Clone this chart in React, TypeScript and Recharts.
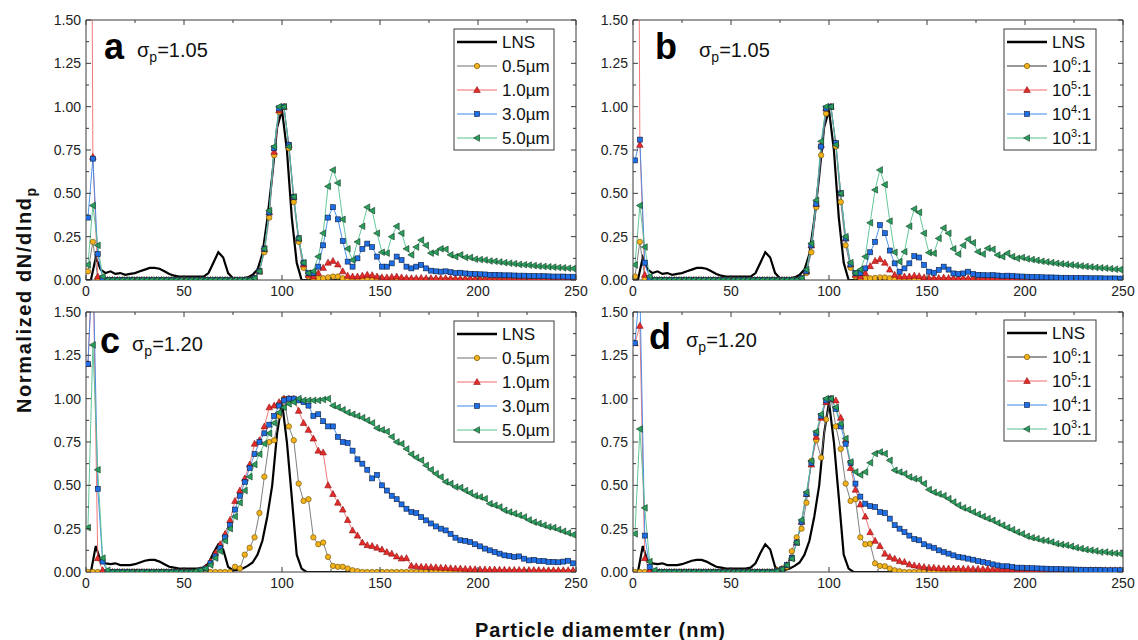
import { LineChart, Line, XAxis, YAxis } from "recharts";

const FONT = "Arial, 'Liberation Sans', sans-serif";
const FRAME = "#3a3a3a";

// bin centres of the simulated distributions (nm)
const binDiam = [
  1, 3.5, 6, 8.5, 11, 13.5, 16, 18.5, 21, 23.5,
  26, 28.5, 31, 33.5, 36, 38.5, 41, 43.5, 46, 48.5,
  51, 53.5, 56, 58.5, 61, 63.5, 66, 68.5, 71, 73.5,
  76, 78.5, 81, 83.5, 86, 88.5, 91, 93.5, 96, 98.5,
  101, 103.5, 106, 108.5, 111, 113.5, 116, 118.5, 121, 123.5,
  126, 128.5, 131, 133.5, 136, 138.5, 141, 143.5, 146, 148.5,
  151, 153.5, 156, 158.5, 161, 163.5, 166, 168.5, 171, 173.5,
  176, 178.5, 181, 183.5, 186, 188.5, 191, 193.5, 196, 198.5,
  201, 203.5, 206, 208.5, 211, 213.5, 216, 218.5, 221, 223.5,
  226, 228.5, 231, 233.5, 236, 238.5, 241, 243.5, 246, 248.5,
];

// grid of the LNS reference curve (nm)
const lnsDiam = [
  0, 2.5, 5, 7.5, 10, 12.5, 15, 17.5, 20, 22.5,
  25, 27.5, 30, 32.5, 35, 37.5, 40, 42.5, 45, 47.5,
  50, 52.5, 55, 57.5, 60, 62.5, 65, 67.5, 70, 72.5,
  75, 77.5, 80, 82.5, 85, 87.5, 90, 92.5, 95, 97.5,
  100, 102.5, 105, 107.5, 110, 112.5, 115, 117.5, 120, 122.5,
  125, 127.5, 130, 132.5, 135, 137.5, 140, 142.5, 145, 147.5,
  150, 152.5, 155, 157.5, 160, 162.5, 165, 167.5, 170, 172.5,
  175, 177.5, 180, 182.5, 185, 187.5, 190, 192.5, 195, 197.5,
  200, 202.5, 205, 207.5, 210, 212.5, 215, 217.5, 220, 222.5,
  225, 227.5, 230, 232.5, 235, 237.5, 240, 242.5, 245, 247.5,
  250,
];

const lnsNarrow = [
  0, 0, 0.13, 0.06, 0.04, 0.05, 0.035, 0.04, 0.03, 0.035,
  0.04, 0.05, 0.06, 0.07, 0.07, 0.065, 0.05, 0.035, 0.025, 0.02,
  0.02, 0.02, 0.02, 0.02, 0.02, 0.04, 0.1, 0.16, 0.13, 0.04,
  0.01, 0.01, 0.01, 0.015, 0.03, 0.06, 0.15, 0.35, 0.6, 0.88,
  0.98, 0.75, 0.36, 0.1, 0, 0, 0, 0, 0, 0,
  0, 0, 0, 0, 0, 0, 0, 0, 0, 0,
  0, 0, 0, 0, 0, 0, 0, 0, 0, 0,
  0, 0, 0, 0, 0, 0, 0, 0, 0, 0,
  0, 0, 0, 0, 0, 0, 0, 0, 0, 0,
  0, 0, 0, 0, 0, 0, 0, 0, 0, 0,
  0,
];

const lnsWide = [
  0, 0, 0.15, 0.06, 0.05, 0.045, 0.05, 0.04, 0.04, 0.04,
  0.045, 0.055, 0.065, 0.07, 0.07, 0.06, 0.045, 0.03, 0.025, 0.02,
  0.02, 0.02, 0.02, 0.02, 0.025, 0.05, 0.11, 0.16, 0.13, 0.03,
  0.01, 0.012, 0.02, 0.035, 0.055, 0.1, 0.18, 0.32, 0.5, 0.8,
  0.98, 0.75, 0.43, 0.1, 0.02, 0, 0, 0, 0, 0,
  0, 0, 0, 0, 0, 0, 0, 0, 0, 0,
  0, 0, 0, 0, 0, 0, 0, 0, 0, 0,
  0, 0, 0, 0, 0, 0, 0, 0, 0, 0,
  0, 0, 0, 0, 0, 0, 0, 0, 0, 0,
  0, 0, 0, 0, 0, 0, 0, 0, 0, 0,
  0,
];

// panel a: sigma 1.05, particle size
const a05 = [
  0.05, 0.22, 0.01, 0, 0, 0, 0, 0, 0, 0,
  0, 0, 0, 0, 0, 0, 0, 0, 0, 0,
  0, 0, 0, 0, 0, 0, 0, 0, 0, 0,
  0, 0, 0, 0, 0.01, 0.05, 0.16, 0.36, 0.72, 0.97,
  1.0, 0.76, 0.45, 0.22, 0.07, 0.02, 0.01, 0.01, 0.01, 0.015,
  0.02, 0.02, 0.01, 0.005, 0, 0, 0, 0, 0, 0,
  0, 0, 0, 0, 0, 0, 0, 0, 0, 0,
  0, 0, 0, 0, 0, 0, 0, 0, 0, 0,
  0, 0, 0, 0, 0, 0, 0, 0, 0, 0,
  0, 0, 0, 0, 0, 0, 0, 0, 0, 0,
];
const a10 = [
  7, 0.71, 0.02, 0, 0, 0, 0, 0, 0, 0,
  0, 0, 0, 0, 0, 0, 0, 0, 0, 0,
  0, 0, 0, 0, 0, 0, 0, 0, 0, 0,
  0, 0, 0, 0, 0.01, 0.05, 0.18, 0.39, 0.74, 0.98,
  1.0, 0.78, 0.48, 0.24, 0.09, 0.03, 0.02, 0.04, 0.07, 0.1,
  0.11, 0.09, 0.05, 0.025, 0.02, 0.02, 0.025, 0.03, 0.028, 0.02,
  0.015, 0.015, 0.018, 0.02, 0.015, 0.012, 0.01, 0.01, 0.012, 0.01,
  0.01, 0.01, 0.01, 0.01, 0.01, 0.008, 0.008, 0.008, 0.008, 0.007,
  0.007, 0.006, 0.006, 0.006, 0.005, 0.005, 0.005, 0.005, 0.005, 0.005,
  0.004, 0.004, 0.004, 0.004, 0.004, 0.004, 0.004, 0.004, 0.004, 0.004,
];
const a30 = [
  0.36, 0.7, 0.15, 0.01, 0, 0, 0, 0, 0, 0,
  0, 0, 0, 0, 0, 0, 0, 0, 0, 0,
  0, 0, 0, 0, 0, 0, 0, 0, 0, 0,
  0, 0, 0, 0, 0.01, 0.05, 0.18, 0.39, 0.76, 0.99,
  1.0, 0.78, 0.48, 0.24, 0.1, 0.04, 0.04, 0.077, 0.2, 0.36,
  0.42, 0.35, 0.225, 0.106, 0.077, 0.125, 0.18, 0.21, 0.19, 0.135,
  0.077, 0.077, 0.096, 0.135, 0.115, 0.077, 0.067, 0.077, 0.087, 0.067,
  0.054, 0.05, 0.048, 0.05, 0.045, 0.04, 0.042, 0.038, 0.036, 0.035,
  0.033, 0.032, 0.03, 0.03, 0.028, 0.027, 0.027, 0.026, 0.025, 0.025,
  0.024, 0.023, 0.022, 0.022, 0.021, 0.02, 0.02, 0.02, 0.019, 0.019,
];
const a50 = [
  0.087, 0.43, 0.2, 0.02, 0, 0, 0, 0, 0, 0,
  0, 0, 0, 0, 0, 0, 0, 0, 0, 0,
  0, 0, 0, 0, 0, 0, 0, 0, 0, 0,
  0, 0, 0, 0, 0.01, 0.05, 0.18, 0.4, 0.77, 1.0,
  1.0, 0.77, 0.48, 0.24, 0.1, 0.04, 0.05, 0.135, 0.27, 0.54,
  0.635, 0.56, 0.35, 0.18, 0.115, 0.22, 0.31, 0.42, 0.4, 0.27,
  0.16, 0.155, 0.25, 0.31, 0.27, 0.18, 0.145, 0.19, 0.23, 0.2,
  0.155, 0.16, 0.18, 0.177, 0.145, 0.135, 0.145, 0.13, 0.13, 0.12,
  0.118, 0.115, 0.11, 0.108, 0.104, 0.1, 0.097, 0.094, 0.09, 0.088,
  0.086, 0.083, 0.08, 0.078, 0.076, 0.074, 0.072, 0.07, 0.068, 0.066,
];

// panel b: sigma 1.05, concentration ratio
const b6 = [
  0.02, 0.22, 0.01, 0, 0, 0, 0, 0, 0, 0,
  0, 0, 0, 0, 0, 0, 0, 0, 0, 0,
  0, 0, 0, 0, 0, 0, 0, 0, 0, 0,
  0, 0, 0, 0, 0.005, 0.04, 0.16, 0.42, 0.72, 0.96,
  1.0, 0.77, 0.45, 0.2, 0.07, 0.02, 0.01, 0.01, 0.01, 0.012,
  0.015, 0.015, 0.01, 0.005, 0, 0, 0, 0, 0, 0,
  0, 0, 0, 0, 0, 0, 0, 0, 0, 0,
  0, 0, 0, 0, 0, 0, 0, 0, 0, 0,
  0, 0, 0, 0, 0, 0, 0, 0, 0, 0,
  0, 0, 0, 0, 0, 0, 0, 0, 0, 0,
];
const b5 = [
  7, 0.78, 0.03, 0, 0, 0, 0, 0, 0, 0,
  0, 0, 0, 0, 0, 0, 0, 0, 0, 0,
  0, 0, 0, 0, 0, 0, 0, 0, 0, 0,
  0, 0, 0, 0, 0.01, 0.05, 0.2, 0.44, 0.78, 0.99,
  1.0, 0.79, 0.5, 0.24, 0.09, 0.03, 0.02, 0.04, 0.08, 0.11,
  0.12, 0.1, 0.06, 0.03, 0.02, 0.02, 0.02, 0.025, 0.022, 0.015,
  0.012, 0.012, 0.012, 0.014, 0.012, 0.01, 0.01, 0.01, 0.01, 0.01,
  0.01, 0.009, 0.009, 0.009, 0.008, 0.008, 0.008, 0.007, 0.007, 0.007,
  0.006, 0.006, 0.006, 0.006, 0.006, 0.005, 0.005, 0.005, 0.005, 0.005,
  0.005, 0.005, 0.005, 0.005, 0.005, 0.004, 0.004, 0.004, 0.004, 0.004,
];
const b4 = [
  0.69, 0.81, 0.1, 0.01, 0, 0, 0, 0, 0, 0,
  0, 0, 0, 0, 0, 0, 0, 0, 0, 0,
  0, 0, 0, 0, 0, 0, 0, 0, 0, 0,
  0, 0, 0, 0, 0.01, 0.05, 0.2, 0.44, 0.77, 0.99,
  1.0, 0.79, 0.5, 0.24, 0.09, 0.04, 0.04, 0.067, 0.16, 0.22,
  0.317, 0.27, 0.17, 0.096, 0.048, 0.067, 0.096, 0.138, 0.13, 0.087,
  0.048, 0.042, 0.058, 0.077, 0.06, 0.038, 0.035, 0.038, 0.048, 0.035,
  0.03, 0.028, 0.027, 0.028, 0.026, 0.024, 0.025, 0.023, 0.021, 0.02,
  0.019, 0.018, 0.017, 0.016, 0.015, 0.015, 0.014, 0.013, 0.013, 0.012,
  0.012, 0.011, 0.011, 0.01, 0.01, 0.01, 0.009, 0.009, 0.009, 0.008,
];
const b3 = [
  0.087, 0.43, 0.19, 0.02, 0, 0, 0, 0, 0, 0,
  0, 0, 0, 0, 0, 0, 0, 0, 0, 0,
  0, 0, 0, 0, 0, 0, 0, 0, 0, 0,
  0, 0, 0, 0, 0.01, 0.06, 0.21, 0.46, 0.8, 1.0,
  1.0, 0.78, 0.5, 0.25, 0.1, 0.04, 0.06, 0.135, 0.33, 0.52,
  0.635, 0.55, 0.34, 0.16, 0.106, 0.163, 0.31, 0.41, 0.39, 0.27,
  0.158, 0.154, 0.24, 0.3, 0.27, 0.18, 0.15, 0.2, 0.235, 0.215,
  0.163, 0.15, 0.183, 0.177, 0.144, 0.135, 0.154, 0.135, 0.125, 0.13,
  0.122, 0.118, 0.113, 0.108, 0.104, 0.1, 0.096, 0.093, 0.09, 0.087,
  0.084, 0.081, 0.078, 0.075, 0.072, 0.07, 0.068, 0.065, 0.062, 0.06,
];

// panel c: sigma 1.20, particle size
const c05 = [
  0, 0, 0, 0, 0, 0, 0, 0, 0, 0,
  0, 0, 0, 0, 0, 0, 0, 0, 0, 0,
  0, 0, 0, 0, 0, 0, 0, 0, 0, 0,
  0.03, 0.02, 0.1, 0.14, 0.2, 0.34, 0.55, 0.75, 0.76, 0.9,
  1.0, 0.84, 0.76, 0.51, 0.41, 0.42, 0.2, 0.16, 0.17, 0.087,
  0.035, 0.03, 0.03, 0.02, 0.01, 0.005, 0, 0, 0, 0,
  0, 0, 0, 0, 0, 0, 0, 0, 0, 0,
  0, 0, 0, 0, 0, 0, 0, 0, 0, 0,
  0, 0, 0, 0, 0, 0, 0, 0, 0, 0,
  0, 0, 0, 0, 0, 0, 0, 0, 0, 0,
];
const c10 = [
  1.2, 1.85, 0.08, 0.01, 0, 0, 0, 0, 0, 0,
  0, 0, 0, 0, 0, 0, 0, 0, 0, 0,
  0, 0, 0, 0.01, 0.025, 0.06, 0.11, 0.16, 0.22, 0.3,
  0.41, 0.47, 0.54, 0.62, 0.74, 0.76, 0.84, 0.95, 0.96, 0.98,
  1.0, 1.0, 1.0, 0.93, 0.86, 0.82, 0.77, 0.7, 0.69, 0.5,
  0.45, 0.4, 0.36, 0.3, 0.24, 0.21, 0.17, 0.155, 0.15, 0.14,
  0.13, 0.115, 0.106, 0.09, 0.078, 0.08, 0.036, 0.033, 0.03, 0.03,
  0.028, 0.027, 0.025, 0.024, 0.022, 0.02, 0.02, 0.018, 0.017, 0.016,
  0.015, 0.015, 0.014, 0.014, 0.013, 0.013, 0.012, 0.012, 0.012, 0.011,
  0.011, 0.011, 0.011, 0.01, 0.01, 0.01, 0.01, 0.01, 0.01, 0.01,
];
const c30 = [
  1.2, 1.82, 0.48, 0.06, 0, 0, 0, 0, 0, 0,
  0, 0, 0, 0, 0, 0, 0, 0, 0, 0,
  0, 0, 0, 0.01, 0.02, 0.05, 0.09, 0.14, 0.2, 0.27,
  0.36, 0.44, 0.52, 0.6, 0.68, 0.75, 0.8, 0.85, 0.9, 0.96,
  0.99, 1.0, 1.0, 0.99, 0.98, 0.96, 0.9, 0.91, 0.87, 0.84,
  0.84, 0.78, 0.75, 0.745, 0.7, 0.65, 0.625, 0.59, 0.54, 0.56,
  0.5, 0.47, 0.44, 0.42, 0.39, 0.365, 0.346, 0.34, 0.317, 0.298,
  0.28, 0.263, 0.25, 0.24, 0.22, 0.198, 0.183, 0.18, 0.173, 0.16,
  0.148, 0.135, 0.125, 0.115, 0.106, 0.096, 0.092, 0.087, 0.09, 0.077,
  0.067, 0.07, 0.063, 0.063, 0.058, 0.058, 0.056, 0.06, 0.065, 0.05,
];
const c50 = [
  0.256, 1.31, 0.59, 0.08, 0.01, 0, 0, 0, 0, 0,
  0, 0, 0, 0, 0, 0, 0, 0, 0, 0,
  0, 0, 0.005, 0.01, 0.02, 0.04, 0.08, 0.12, 0.18, 0.25,
  0.32, 0.4, 0.47, 0.55, 0.62, 0.68, 0.74, 0.8, 0.86, 0.92,
  0.95, 0.97, 0.98, 1.0, 0.99, 0.99, 0.99, 0.99, 0.995, 1.0,
  0.96, 0.95, 0.936, 0.92, 0.91, 0.9, 0.89, 0.875, 0.86, 0.83,
  0.82, 0.81, 0.78, 0.75, 0.74, 0.71, 0.68, 0.66, 0.645, 0.615,
  0.59, 0.567, 0.548, 0.52, 0.51, 0.49, 0.487, 0.47, 0.456, 0.44,
  0.433, 0.423, 0.394, 0.385, 0.375, 0.356, 0.346, 0.337, 0.327, 0.317,
  0.3, 0.288, 0.28, 0.27, 0.26, 0.256, 0.245, 0.235, 0.225, 0.215,
];

// panel d: sigma 1.20, concentration ratio
const d6 = [
  0, 0, 0, 0, 0, 0, 0, 0, 0, 0,
  0, 0, 0, 0, 0, 0, 0, 0, 0, 0,
  0, 0, 0, 0, 0, 0, 0, 0, 0, 0.01,
  0.02, 0.03, 0.12, 0.2, 0.25, 0.4, 0.64, 0.76, 0.66, 0.88,
  1.0, 0.84, 0.71, 0.51, 0.41, 0.42, 0.2, 0.16, 0.163, 0.05,
  0.035, 0.033, 0.02, 0.01, 0.005, 0, 0, 0, 0, 0,
  0, 0, 0, 0, 0, 0, 0, 0, 0, 0,
  0, 0, 0, 0, 0, 0, 0, 0, 0, 0,
  0, 0, 0, 0, 0, 0, 0, 0, 0, 0,
  0, 0, 0, 0, 0, 0, 0, 0, 0, 0,
];
const d5 = [
  1.32, 1.42, 0.08, 0.01, 0, 0, 0, 0, 0, 0,
  0, 0, 0, 0, 0, 0, 0, 0, 0, 0,
  0, 0, 0, 0, 0, 0, 0, 0, 0, 0.005,
  0.015, 0.04, 0.08, 0.17, 0.29, 0.45, 0.62, 0.78, 0.89, 0.98,
  1.0, 0.99, 0.89, 0.76, 0.6, 0.475, 0.39, 0.32, 0.23, 0.18,
  0.15, 0.106, 0.087, 0.077, 0.063, 0.058, 0.044, 0.038, 0.033, 0.029,
  0.025, 0.025, 0.022, 0.02, 0.02, 0.02, 0.02, 0.019, 0.019, 0.018,
  0.018, 0.017, 0.017, 0.016, 0.016, 0.015, 0.015, 0.015, 0.014, 0.014,
  0.013, 0.013, 0.012, 0.012, 0.012, 0.011, 0.011, 0.011, 0.011, 0.01,
  0.01, 0.01, 0.01, 0.01, 0.01, 0.01, 0.01, 0.01, 0.01, 0.01,
];
const d4 = [
  1.32, 1.64, 0.21, 0.03, 0, 0, 0, 0, 0, 0,
  0, 0, 0, 0, 0, 0, 0, 0, 0, 0,
  0, 0, 0, 0, 0, 0, 0, 0, 0, 0.005,
  0.015, 0.04, 0.08, 0.17, 0.29, 0.45, 0.63, 0.8, 0.9, 0.99,
  1.0, 0.94, 0.84, 0.74, 0.63, 0.51, 0.435, 0.394, 0.38, 0.375,
  0.346, 0.34, 0.308, 0.27, 0.25, 0.23, 0.21, 0.19, 0.183, 0.16,
  0.148, 0.14, 0.125, 0.115, 0.106, 0.096, 0.087, 0.083, 0.077, 0.071,
  0.063, 0.058, 0.052, 0.044, 0.038, 0.033, 0.033, 0.029, 0.025, 0.025,
  0.023, 0.022, 0.021, 0.02, 0.019, 0.018, 0.017, 0.016, 0.015, 0.015,
  0.014, 0.013, 0.012, 0.012, 0.011, 0.011, 0.01, 0.01, 0.01, 0.01,
];
const d3 = [
  0.22, 0.825, 0.37, 0.06, 0.01, 0, 0, 0, 0, 0,
  0, 0, 0, 0, 0, 0, 0, 0, 0, 0,
  0, 0, 0, 0, 0, 0, 0, 0, 0, 0.005,
  0.015, 0.04, 0.077, 0.17, 0.3, 0.46, 0.64, 0.81, 0.91, 1.0,
  1.0, 0.95, 0.855, 0.77, 0.635, 0.577, 0.56, 0.577, 0.63, 0.683,
  0.692, 0.683, 0.644, 0.587, 0.577, 0.567, 0.548, 0.538, 0.533, 0.51,
  0.475, 0.46, 0.45, 0.44, 0.423, 0.404, 0.385, 0.37, 0.36, 0.346,
  0.333, 0.32, 0.308, 0.298, 0.283, 0.27, 0.256, 0.244, 0.23, 0.22,
  0.206, 0.198, 0.192, 0.183, 0.18, 0.173, 0.163, 0.158, 0.154, 0.148,
  0.14, 0.135, 0.129, 0.125, 0.121, 0.115, 0.115, 0.11, 0.108, 0.105,
];

const xTicks = [0, 25, 50, 75, 100, 125, 150, 175, 200, 225, 250];
const xLabels = [0, 50, 100, 150, 200, 250];
const yTicks = [0, 0.125, 0.25, 0.375, 0.5, 0.625, 0.75, 0.875, 1, 1.125, 1.25, 1.375, 1.5];
const yLabels = [0, 0.25, 0.5, 0.75, 1, 1.25, 1.5];

const sizeLabels = ["0.5µm", "1.0µm", "3.0µm", "5.0µm"];
const ratioExps = ["6", "5", "4", "3"];

const STYLES = [
  { line: "#707070", fill: "#f2b21b", edge: "#6b4c00", shape: "circle" },
  { line: "#f06a6a", fill: "#e62b2b", edge: "#8a1212", shape: "up" },
  { line: "#3c87ea", fill: "#1e6fe6", edge: "#0e1c3c", shape: "square" },
  { line: "#52c08e", fill: "#2b9e5d", edge: "#123a22", shape: "left" },
];

const PANELS = [
  { key: "a", left: 0, top: 0, lns: lnsNarrow, series: [a05, a10, a30, a50], ratio: false },
  { key: "b", left: 547, top: 0, lns: lnsNarrow, series: [b6, b5, b4, b3], ratio: true },
  { key: "c", left: 0, top: 292, lns: lnsWide, series: [c05, c10, c30, c50], ratio: false },
  { key: "d", left: 547, top: 292, lns: lnsWide, series: [d6, d5, d4, d3], ratio: true },
];

const rowsOf = (xs: number[], ys: number[]) => xs.map((d, i) => ({ d, v: ys[i] }));

function Marker({ cx, cy, shape, fill, edge }: any) {
  if (cx == null || cy == null || Number.isNaN(cx) || Number.isNaN(cy)) return null;
  const sw = 0.6;
  if (shape === "circle") return <circle cx={cx} cy={cy} r={2.7} fill={fill} stroke={edge} strokeWidth={sw} />;
  if (shape === "up")
    return (
      <polygon
        points={`${cx},${cy - 3.5} ${cx - 3.3},${cy + 2.5} ${cx + 3.3},${cy + 2.5}`}
        fill={fill}
        stroke={edge}
        strokeWidth={sw}
      />
    );
  if (shape === "square")
    return <rect x={cx - 2.5} y={cy - 2.5} width={5} height={5} fill={fill} stroke={edge} strokeWidth={sw} />;
  return (
    <polygon
      points={`${cx - 3.5},${cy} ${cx + 2.5},${cy - 3.3} ${cx + 2.5},${cy + 3.3}`}
      fill={fill}
      stroke={edge}
      strokeWidth={sw}
    />
  );
}

const bottomTick = (p: any) => {
  const v = p.payload.value;
  const major = xLabels.includes(v);
  return (
    <g>
      <line x1={p.x} x2={p.x} y1={p.y} y2={p.y - (major ? 5 : 3)} stroke={FRAME} />
      {major && (
        <text x={p.x} y={p.y + 16} textAnchor="middle" fontSize={14} fill="#222" fontFamily={FONT}>
          {v}
        </text>
      )}
    </g>
  );
};
const topTick = (p: any) => {
  const major = xLabels.includes(p.payload.value);
  return <line x1={p.x} x2={p.x} y1={p.y} y2={p.y + (major ? 5 : 3)} stroke={FRAME} />;
};
const leftTick = (p: any) => {
  const v = p.payload.value;
  const major = yLabels.includes(v);
  return (
    <g>
      <line x1={p.x} x2={p.x + (major ? 5 : 3)} y1={p.y} y2={p.y} stroke={FRAME} />
      {major && (
        <text x={p.x - 5} y={p.y + 5} textAnchor="end" fontSize={14} fill="#222" fontFamily={FONT}>
          {v.toFixed(2)}
        </text>
      )}
    </g>
  );
};
const rightTick = (p: any) => {
  const major = yLabels.includes(p.payload.value);
  return <line x1={p.x} x2={p.x - (major ? 5 : 3)} y1={p.y} y2={p.y} stroke={FRAME} />;
};

function Panel({ panel }: any) {
  const lnsRows = rowsOf(lnsDiam, panel.lns);
  return (
    <div style={{ position: "absolute", left: panel.left, top: panel.top }}>
      <LineChart width={590} height={300} margin={{ top: 19, right: 13, bottom: 19, left: 85 }}>
        <XAxis
          dataKey="d"
          type="number"
          domain={[0, 250]}
          allowDataOverflow
          ticks={xTicks}
          interval={0}
          height={1}
          tickSize={0}
          tickMargin={0}
          tickLine={false}
          tick={bottomTick}
          axisLine={{ stroke: FRAME }}
        />
        <XAxis
          xAxisId="t"
          orientation="top"
          dataKey="d"
          type="number"
          domain={[0, 250]}
          allowDataOverflow
          ticks={xTicks}
          interval={0}
          height={1}
          tickSize={0}
          tickMargin={0}
          tickLine={false}
          tick={topTick}
          axisLine={{ stroke: FRAME }}
        />
        <YAxis
          type="number"
          domain={[0, 1.5]}
          allowDataOverflow
          ticks={yTicks}
          interval={0}
          width={1}
          tickSize={0}
          tickMargin={0}
          tickLine={false}
          tick={leftTick}
          axisLine={{ stroke: FRAME }}
        />
        <YAxis
          yAxisId="r"
          orientation="right"
          type="number"
          domain={[0, 1.5]}
          allowDataOverflow
          ticks={yTicks}
          interval={0}
          width={1}
          tickSize={0}
          tickMargin={0}
          tickLine={false}
          tick={rightTick}
          axisLine={{ stroke: FRAME }}
        />
        <Line
          data={lnsRows}
          dataKey="v"
          type="linear"
          stroke="#000"
          strokeWidth={2.2}
          dot={false}
          activeDot={false}
          isAnimationActive={false}
        />
        {panel.series.map((ys: number[], k: number) => {
          const st = STYLES[k];
          return (
            <Line
              key={k}
              data={rowsOf(binDiam, ys)}
              dataKey="v"
              type="linear"
              stroke={st.line}
              strokeWidth={0.9}
              dot={(p: any) => <Marker key={p.index} cx={p.cx} cy={p.cy} {...st} />}
              activeDot={false}
              isAnimationActive={false}
            />
          );
        })}
      </LineChart>
    </div>
  );
}

function LegendBox({ x, y, w, ratio }: any) {
  const rowY = (i: number) => y + 13 + i * 24;
  const sx1 = x + 3;
  const sx2 = x + 43;
  const tx = x + 48;
  return (
    <g>
      <rect x={x} y={y} width={w} height={121} fill="#fff" stroke={FRAME} strokeWidth={1} />
      <line x1={sx1} x2={sx2} y1={rowY(0)} y2={rowY(0)} stroke="#000" strokeWidth={2.6} />
      <text x={tx} y={rowY(0) + 6} fontSize={17} fontFamily={FONT} fill="#111">
        LNS
      </text>
      {STYLES.map((st, k) => {
        const ry = rowY(k + 1);
        return (
          <g key={k}>
            <line
              x1={sx1}
              x2={sx2}
              y1={ry}
              y2={ry}
              stroke={k === 0 && ratio ? "#333" : st.line}
              strokeWidth={1}
            />
            <Marker cx={(sx1 + sx2) / 2} cy={ry} {...st} />
            {ratio ? (
              <text x={tx} y={ry + 6} fontSize={17} fontFamily={FONT} fill="#111">
                10
                <tspan dy={-7} fontSize={11}>
                  {ratioExps[k]}
                </tspan>
                <tspan dy={7}>:1</tspan>
              </text>
            ) : (
              <text x={tx} y={ry + 6} fontSize={17} fontFamily={FONT} fill="#111">
                {sizeLabels[k]}
              </text>
            )}
          </g>
        );
      })}
    </g>
  );
}

function Sigma({ x, y, value }: any) {
  return (
    <text x={x} y={y} fontSize={20} fontFamily={FONT} fill="#111">
      σ
      <tspan dy={5} fontSize={14}>
        p
      </tspan>
      <tspan dy={-5}>={value}</tspan>
    </text>
  );
}

const letterStyle = { fontSize: 36, fontWeight: 700, fontFamily: FONT, fill: "#000" } as const;

export default function App() {
  return (
    <div
      style={{
        position: "absolute",
        left: 0,
        top: 0,
        width: 1138,
        height: 640,
        background: "#fff",
        overflow: "hidden",
      }}
    >
      {PANELS.map((p) => (
        <Panel key={p.key} panel={p} />
      ))}
      <svg
        width={1138}
        height={640}
        style={{ position: "absolute", left: 0, top: 0, pointerEvents: "none" }}
      >
        <text x={104} y={59} {...letterStyle}>a</text>
        <Sigma x={137} y={57} value="1.05" />
        <text x={655} y={59} {...letterStyle}>b</text>
        <Sigma x={699} y={57} value="1.05" />
        <text x={100} y={353} {...letterStyle}>c</text>
        <Sigma x={132} y={351} value="1.20" />
        <text x={649} y={349} {...letterStyle}>d</text>
        <Sigma x={686} y={347} value="1.20" />

        <LegendBox x={454} y={29} w={100} ratio={false} />
        <LegendBox x={1004} y={29} w={92} ratio={true} />
        <LegendBox x={454} y={321} w={100} ratio={false} />
        <LegendBox x={1004} y={320} w={92} ratio={true} />

        <text
          transform="translate(31,413) rotate(-90)"
          fontSize={20}
          fontWeight={700}
          fontFamily={FONT}
          letterSpacing={1.6}
          fill="#111"
        >
          Normalized dN/dlnd
          <tspan dy={5} fontSize={14}>
            p
          </tspan>
        </text>
        <text x={475} y={637} fontSize={20} fontWeight={700} fontFamily={FONT} letterSpacing={1} fill="#111">
          Particle diamemter (nm)
        </text>
      </svg>
    </div>
  );
}
